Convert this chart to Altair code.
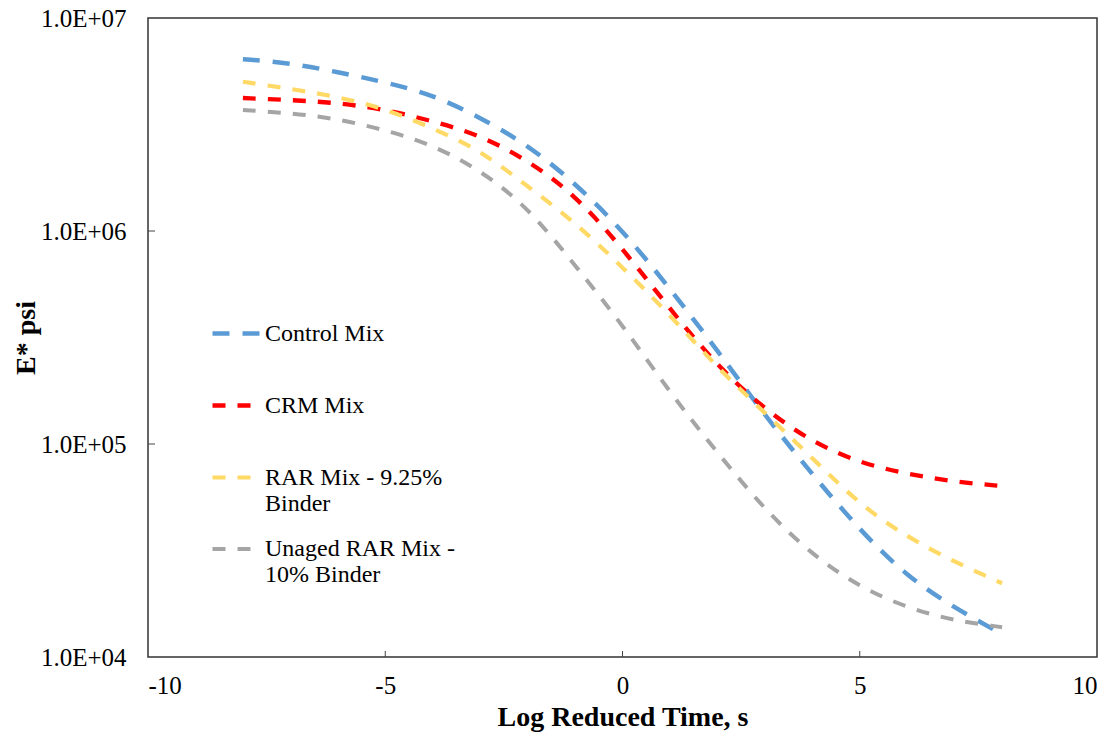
import altair as alt
import pandas as pd

x_vals = [-8, -7, -6, -5, -4, -3, -2, -1, 0, 1, 2, 3, 4, 5, 6, 7, 8]
control = [6.41e6, 6.15e6, 5.57e6, 5.0e6, 4.37e6, 3.41e6, 2.54e6, 1.68e6, 1.01e6,
           5.37e5, 2.75e5, 1.36e5, 7.2e4, 3.94e4, 2.38e4, 1.70e4, 1.28e4]
crm = [4.21e6, 4.12e6, 4.0e6, 3.72e6, 3.28e6, 2.82e6, 2.15e6, 1.48e6, 8.3e5,
       4.3e5, 2.32e5, 1.45e5, 1.02e5, 8.15e4, 7.23e4, 6.64e4, 6.35e4]
rar = [5.02e6, 4.65e6, 4.27e6, 3.75e6, 3.04e6, 2.40e6, 1.62e6, 1.10e6, 6.76e5,
       4.04e5, 2.28e5, 1.40e5, 8.6e4, 5.18e4, 3.66e4, 2.79e4, 2.22e4]
unaged = [3.70e6, 3.58e6, 3.36e6, 2.98e6, 2.54e6, 1.93e6, 1.30e6, 6.9e5, 3.63e5,
          1.74e5, 9.1e4, 4.9e4, 3.01e4, 2.13e4, 1.70e4, 1.48e4, 1.38e4]

series_names = ["Control Mix\n", "CRM Mix\n", "RAR Mix - 9.25%\nBinder", "Unaged RAR Mix -\n10% Binder"]
series_values = [control, crm, rar, unaged]
colors = ["#5B9BD5", "#FF0000", "#FFD966", "#A5A5A5"]
dashes = [[17, 13], [13, 12], [13, 12], [13, 12]]
widths = [4.5, 4, 3.5, 3.5]

x_ticks = [-10, -5, 0, 5, 10]
y_ticks = [1e4, 1e5, 1e6, 1e7]

rows = []
for name, vals in zip(series_names, series_values):
    for xv, yv in zip(x_vals, vals):
        rows.append({"series": name, "t": xv, "E": yv})
df = pd.DataFrame(rows)

W, H = 949, 639
FONT = "Liberation Serif"

xscale = alt.Scale(domain=[-10, 10], nice=False, zero=False)
yscale = alt.Scale(type="log", domain=[1e4, 1e7], nice=False)

legend = alt.Legend(
    title=None, orient="none", legendX=62, legendY=288, padding=0,
    symbolType="stroke", symbolSize=2500, symbolStrokeWidth=4,
    labelFont=FONT, labelFontSize=24, labelColor="black", labelLimit=400,
    rowPadding=6, labelOffset=0,
    labelExpr="split(datum.label, '\\n')",
)

lines = alt.Chart(df).mark_line(interpolate="basis").encode(
    x=alt.X("t:Q", scale=xscale,
            axis=alt.Axis(values=x_ticks, title="Log Reduced Time, s", tickSize=0,
                          labelPadding=16, grid=False, domain=False,
                          labelExpr="'' + datum.value",
                          labelFont=FONT, labelFontSize=25, labelColor="black",
                          titleFont=FONT, titleFontSize=28, titleFontWeight="bold",
                          titleColor="black", titlePadding=5)),
    y=alt.Y("E:Q", scale=yscale,
            axis=alt.Axis(values=y_ticks, title="E* psi", tickSize=0,
                          labelPadding=22, grid=False, domain=False,
                          labelExpr="'1.0E+0' + round(log(datum.value)/log(10))",
                          labelFont=FONT, labelFontSize=25, labelColor="black",
                          titleFont=FONT, titleFontSize=28, titleFontWeight="bold",
                          titleColor="black", titlePadding=0)),
    color=alt.Color("series:N", scale=alt.Scale(domain=series_names, range=colors), legend=legend),
    strokeDash=alt.StrokeDash("series:N", scale=alt.Scale(domain=series_names, range=dashes), legend=legend),
    strokeWidth=alt.StrokeWidth("series:N", scale=alt.Scale(domain=series_names, range=widths), legend=legend),
    detail="series:N",
)

xt = pd.DataFrame({"xt": x_ticks[1:-1]})
yt = pd.DataFrame({"yt": y_ticks[1:-1]})

xtick_layer = alt.Chart(xt).mark_rule(color="#444", strokeWidth=1).encode(
    x=alt.X("xt:Q", scale=xscale), y=alt.value(H - 6), y2=alt.value(H))
ytick_layer = alt.Chart(yt).mark_rule(color="#444", strokeWidth=1).encode(
    y=alt.Y("yt:Q", scale=yscale), x=alt.value(0), x2=alt.value(7))

chart = alt.layer(lines, xtick_layer, ytick_layer).properties(
    width=W, height=H,
    autosize=alt.AutoSizeParams(type="none"),
    padding={"left": 148, "top": 18, "right": 18, "bottom": 81},
    background="white",
).configure_view(stroke="#333", strokeWidth=1.5)

chart.save("out.html", embed_options={"renderer": "svg", "actions": False})
